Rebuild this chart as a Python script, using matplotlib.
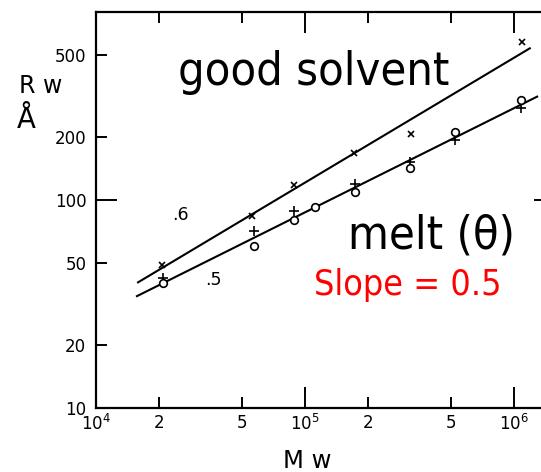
import matplotlib
matplotlib.use("Agg")
import matplotlib.pyplot as plt
from matplotlib import font_manager as fm
from matplotlib.ticker import FixedLocator, FixedFormatter

# ---------------- data ----------------
good_mw = [2.08e4, 5.56e4, 8.9e4, 1.72e5, 3.21e5, 1.09e6]
good_rw = [48.7, 83.8, 118, 168, 207, 577]

melt_plus_mw = [2.1e4, 5.7e4, 8.9e4, 1.74e5, 3.19e5, 5.2e5, 1.08e6]
melt_plus_rw = [42.2, 71.1, 88.8, 119, 153, 194, 276]

melt_circ_mw = [2.1e4, 5.7e4, 8.9e4, 1.12e5, 1.74e5, 3.19e5, 5.2e5, 1.08e6]
melt_circ_rw = [39.9, 60.1, 80.1, 92.9, 109, 143, 213, 303]

good_fit_mw = [1.59e4, 1.19e6]
good_fit_rw = [40.2, 536]
melt_fit_mw = [1.57e4, 1.29e6]
melt_fit_rw = [34.5, 314]

x_major = [1e4, 1e5, 1e6]
x_major_labels = ['10$^4$', '10$^5$', '10$^6$']
x_minor = [2e4, 5e4, 2e5, 5e5]
x_minor_labels = ['2', '5', '2', '5']
y_major = [10, 100]
y_major_labels = ['10', '100']
y_minor = [20, 50, 200, 500]
y_minor_labels = ['20', '50', '200', '500']

slope_labels = ['.6', '.5']
slope_label_mw = [2.31e4, 3.33e4]
slope_label_rw = [80, 39]

# ---------------- fonts ----------------
cond = [f.fname for f in fm.fontManager.ttflist
        if 'DejaVuSansCondensed.ttf' in f.fname]
if cond:
    big_fp = lambda s: fm.FontProperties(fname=cond[0], size=s)
    scale = 0.99
else:
    big_fp = lambda s: fm.FontProperties(family='Liberation Sans', size=s)
    scale = 1.0

W, H = 541, 472
fig = plt.figure(figsize=(W / 100, H / 100), dpi=100)
fig.patch.set_facecolor('white')

# axes in pixel coordinates
left_px, right_px, top_px, bottom_px = 96, 555, 12, 408
ax = fig.add_axes([left_px / W, 1 - bottom_px / H,
                   (right_px - left_px) / W, (bottom_px - top_px) / H])
ax.set_xscale('log')
ax.set_yscale('log')
ax.set_xlim(1e4, 10 ** (4 + (right_px - left_px) / 209))
ax.set_ylim(10, 10 ** (1 + (bottom_px - top_px) / 208))

for sp in ax.spines.values():
    sp.set_linewidth(1.6)

ax.xaxis.set_major_locator(FixedLocator(x_major))
ax.xaxis.set_major_formatter(FixedFormatter(x_major_labels))
ax.xaxis.set_minor_locator(FixedLocator(x_minor))
ax.xaxis.set_minor_formatter(FixedFormatter(x_minor_labels))
ax.yaxis.set_major_locator(FixedLocator(y_major))
ax.yaxis.set_major_formatter(FixedFormatter(y_major_labels))
ax.yaxis.set_minor_locator(FixedLocator(y_minor))
ax.yaxis.set_minor_formatter(FixedFormatter(y_minor_labels))

ax.tick_params(which='both', direction='in', top=True, right=True,
               width=1.4, labelsize=12, colors='black')
ax.tick_params(which='major', length=15)
ax.tick_params(which='minor', length=8)
ax.tick_params(axis='y', which='both', pad=7)
ax.tick_params(axis='x', which='both', pad=4)

# fit lines
ax.plot(good_fit_mw, good_fit_rw, color='black', lw=1.5)
ax.plot(melt_fit_mw, melt_fit_rw, color='black', lw=1.5)

# data points
ax.plot(good_mw, good_rw, ls='none', marker='x', ms=5, mew=1.2, color='black')
ax.plot(melt_plus_mw, melt_plus_rw, ls='none', marker='+', ms=7, mew=1.2, color='black')
ax.plot(melt_circ_mw, melt_circ_rw, ls='none', marker='o', ms=5.5, mew=1.2,
        mfc='white', mec='black')

for lab, mx, ry in zip(slope_labels, slope_label_mw, slope_label_rw):
    ax.text(mx, ry, lab, fontsize=12.5, color='black', va='baseline', ha='left')

# axis titles
fig.text(19 / W, 1 - 93 / H, 'R w', fontsize=17, va='baseline', ha='left')
fig.text(17 / W, 1 - 128 / H, 'Å', fontsize=20, va='baseline', ha='left')
fig.text(283 / W, 1 - 468 / H, 'M w', fontsize=17.5, va='baseline', ha='left')

# overlay annotations
fig.text(178 / W, 1 - 85 / H, 'good solvent', fontproperties=big_fp(34 * scale),
         va='baseline', ha='left', color='black')
fig.text(348 / W, 1 - 248 / H, 'melt (θ)', fontproperties=big_fp(34 * scale),
         va='baseline', ha='left', color='black')
fig.text(314 / W, 1 - 295 / H, 'Slope = 0.5', fontproperties=big_fp(26 * scale),
         va='baseline', ha='left', color='#ff0000')

fig.savefig('out.png', dpi=100)
